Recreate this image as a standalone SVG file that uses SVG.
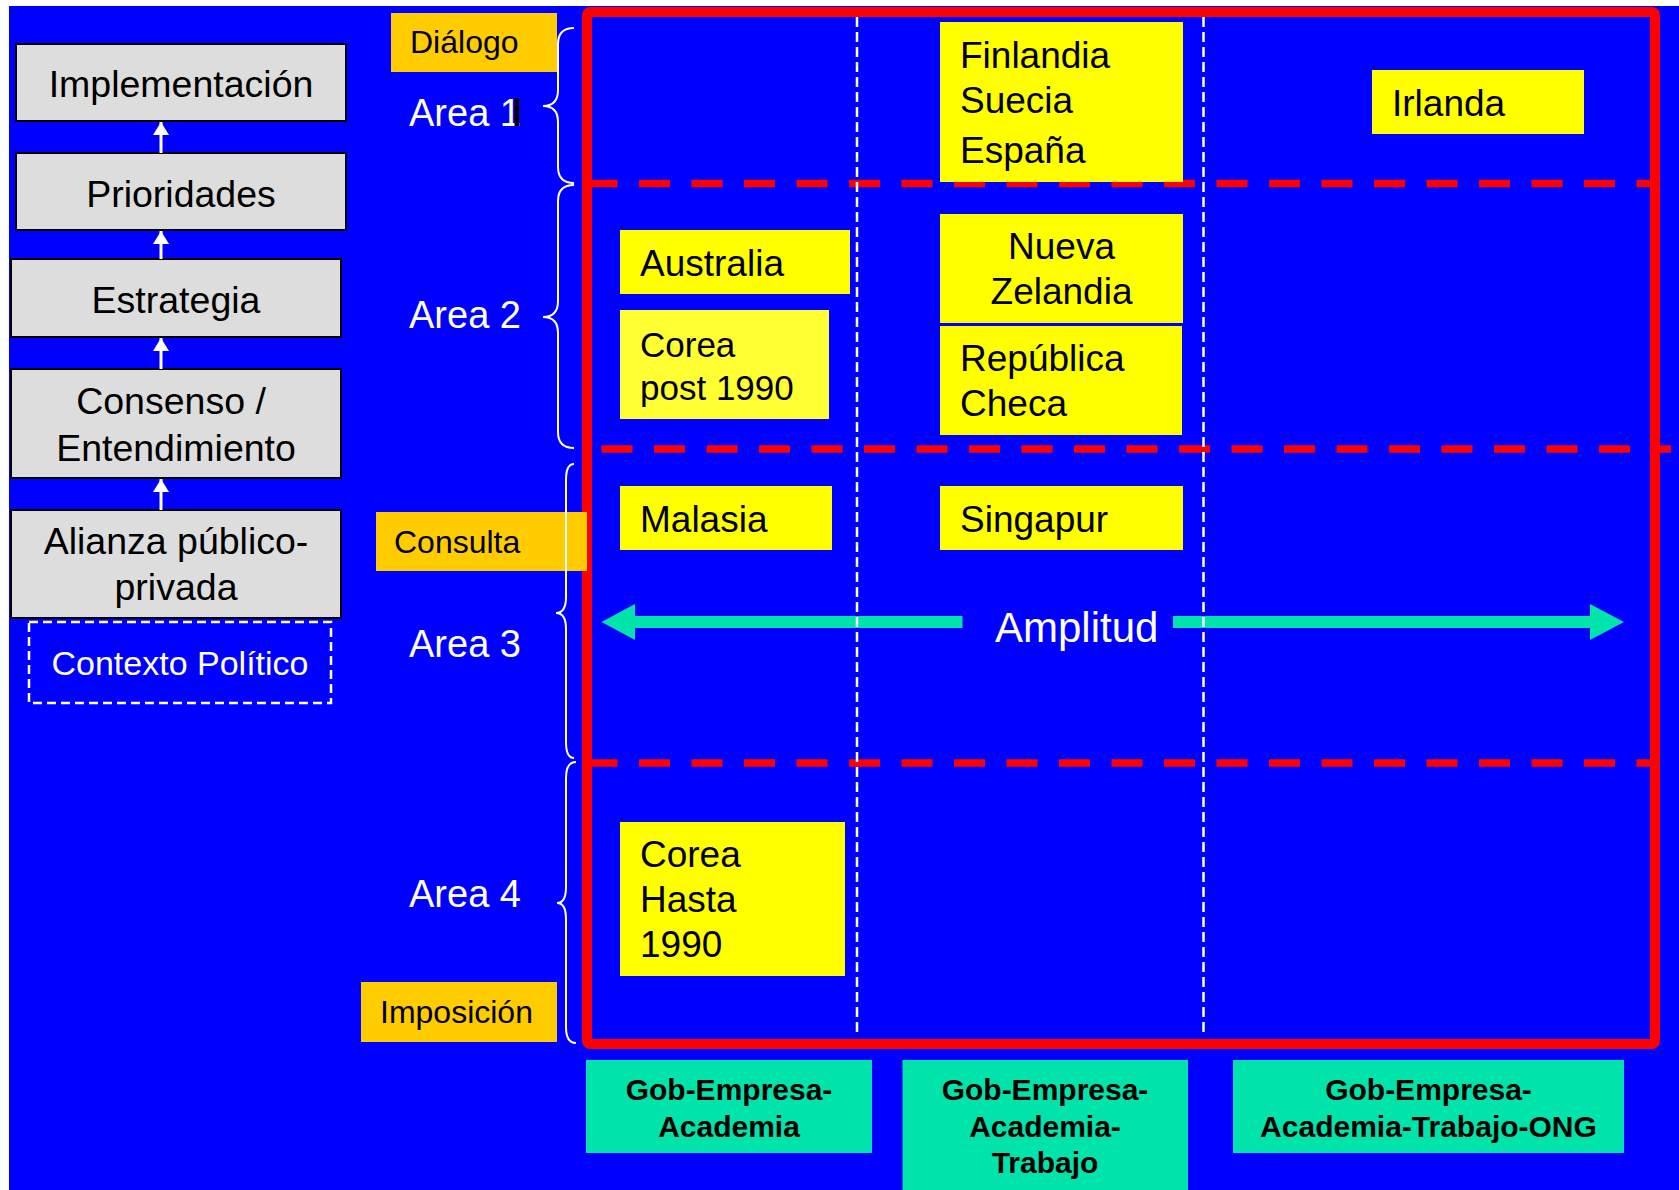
<svg xmlns="http://www.w3.org/2000/svg" width="1679" height="1190" viewBox="0 0 1679 1190">
<style>
.t{font-family:"Liberation Sans",Arial,sans-serif}
.gbox{fill:#DDDDDD;stroke:#000;stroke-width:2}
.lbl{font-size:37.5px;fill:#000;text-anchor:middle}
.org{fill:#FFCC00}
.olbl{font-size:32px;fill:#000}
.ylw{fill:#FFFF00}
.ctry{font-size:37px;fill:#000}
.grn{fill:#00E3AA}
.gtxt{font-size:30px;font-weight:bold;fill:#000;text-anchor:middle}
.area{font-size:38px;fill:#fff}
.rdash{stroke:#FF0000;stroke-width:7.5;stroke-dasharray:31 21.5;fill:none}
.wdash{stroke:#fff;stroke-width:2.5;stroke-dasharray:10 5;fill:none}
.brace{fill:none;stroke:#fff;stroke-width:2}
.teal{fill:#00E3AA}
.conn{stroke:#fff;stroke-width:3;fill:none;marker-end:url(#ah)}
</style>
<defs>
<marker id="ah" viewBox="0 0 13 16" refX="13" refY="8" markerWidth="13" markerHeight="16" markerUnits="userSpaceOnUse" orient="auto">
<path d="M0,0 L13,8 L0,16 z" fill="#fff"/>
</marker>
</defs>
<rect x="9" y="6" width="1670" height="1184" fill="#0000FF"/>

<g id="grid">
<line class="rdash" x1="586.5" y1="183.5" x2="1650" y2="183.5"/>
<line class="rdash" x1="601.5" y1="449" x2="1671" y2="449"/>
<line class="rdash" x1="586.5" y1="763" x2="1650" y2="763"/>
</g>

<g id="amplitud">
<polygon class="teal" points="601.5,622 635,604 635,616 962.5,616 962.5,628 635,628 635,640"/>
<polygon class="teal" points="1173,616 1590,616 1590,604 1624,622 1590,640 1590,628 1173,628"/>
<text class="t" x="995" y="642" font-size="42" fill="#fff">Amplitud</text>
</g>

<g id="columns">
<line class="wdash" x1="857" y1="17" x2="857" y2="1036"/>
<line class="wdash" x1="1203.5" y1="17" x2="1203.5" y2="1036"/>
</g>

<rect id="frame" x="587" y="12" width="1068" height="1032" rx="3" fill="none" stroke="#FF0000" stroke-width="10"/>

<g id="finlandia">
<rect class="ylw" x="940" y="22" width="243" height="160"/>
<text class="t ctry" x="960" y="68">Finlandia</text>
<text class="t ctry" x="960" y="113">Suecia</text>
<text class="t ctry" x="960" y="163">España</text>
</g>
<g id="irlanda">
<rect class="ylw" x="1372" y="70" width="212" height="64"/>
<text class="t ctry" x="1392" y="116">Irlanda</text>
</g>
<g id="australia">
<rect class="ylw" x="620" y="230" width="230" height="64"/>
<text class="t ctry" x="640" y="276">Australia</text>
</g>
<g id="corea-post">
<rect x="620" y="310" width="209" height="109" fill="#FFFF33"/>
<text class="t" x="640" y="357" font-size="35" fill="#000">Corea</text>
<text class="t" x="640" y="400" font-size="35" fill="#000">post 1990</text>
</g>
<g id="nueva-zelandia">
<rect class="ylw" x="940" y="214" width="243" height="109"/>
<text class="t ctry" x="1061.5" y="259" text-anchor="middle">Nueva</text>
<text class="t ctry" x="1061.5" y="304" text-anchor="middle">Zelandia</text>
</g>
<g id="republica-checa">
<rect class="ylw" x="940" y="326" width="242" height="109"/>
<text class="t ctry" x="960" y="371">República</text>
<text class="t ctry" x="960" y="416">Checa</text>
</g>
<g id="malasia">
<rect class="ylw" x="620" y="486" width="212" height="64"/>
<text class="t ctry" x="640" y="532">Malasia</text>
</g>
<g id="singapur">
<rect class="ylw" x="940" y="486" width="243" height="64"/>
<text class="t ctry" x="960" y="532">Singapur</text>
</g>
<g id="corea-hasta">
<rect class="ylw" x="620" y="822" width="225" height="154"/>
<text class="t ctry" x="640" y="867">Corea</text>
<text class="t ctry" x="640" y="912">Hasta</text>
<text class="t ctry" x="640" y="957">1990</text>
</g>

<g id="dialogo">
<rect class="org" x="391" y="13" width="166" height="59"/>
<text class="t olbl" x="410" y="53">Diálogo</text>
</g>
<g id="consulta">
<rect class="org" x="376" y="512" width="211" height="59"/>
<text class="t olbl" x="394" y="553">Consulta</text>
</g>
<g id="imposicion">
<rect class="org" x="361" y="982" width="196" height="60"/>
<text class="t olbl" x="380" y="1023">Imposición</text>
</g>

<g id="braces">
<path class="brace" d="M574,28 Q558,28 558,44 L558,90 Q558,106 543,106 Q558,106 558,122 L558,167 Q558,183 574,183"/>
<path class="brace" d="M574,185 Q558,185 558,201 L558,301 Q558,317 543,317 Q558,317 558,333 L558,432 Q558,448 574,448"/>
<path class="brace" d="M574,464 Q566,464 566,480 L566,597 Q566,613 556,613 Q566,613 566,629 L566,742 Q566,758 574,758"/>
<path class="brace" d="M576,762 Q566,762 566,778 L566,887 Q566,903 557,903 Q566,903 566,919 L566,1027 Q566,1043 576,1043"/>
</g>

<g id="areas">
<text class="t area" x="409" y="126">Area 1</text>
<rect x="514.5" y="98" width="4.5" height="28" fill="#000"/>
<text class="t area" x="409" y="328">Area 2</text>
<text class="t area" x="409" y="657">Area 3</text>
<text class="t area" x="409" y="907">Area 4</text>
</g>

<g id="implementacion">
<rect class="gbox" x="16" y="44" width="330" height="77"/>
<text class="t lbl" x="181" y="97">Implementación</text>
</g>
<g id="prioridades">
<rect class="gbox" x="16" y="153" width="330" height="77"/>
<text class="t lbl" x="181" y="207">Prioridades</text>
</g>
<g id="estrategia">
<rect class="gbox" x="11" y="259" width="330" height="78"/>
<text class="t lbl" x="176" y="313">Estrategia</text>
</g>
<g id="consenso">
<rect class="gbox" x="11" y="369" width="330" height="109"/>
<text class="t lbl" x="171" y="414">Consenso /</text>
<text class="t lbl" x="176" y="461">Entendimiento</text>
</g>
<g id="alianza">
<rect class="gbox" x="11" y="510" width="330" height="108"/>
<text class="t lbl" x="176" y="554">Alianza público-</text>
<text class="t lbl" x="176" y="600">privada</text>
</g>
<g id="contexto">
<rect x="29" y="622" width="302" height="81" fill="none" stroke="#fff" stroke-width="2.5" stroke-dasharray="9 5"/>
<text class="t" x="180" y="675" font-size="34" fill="#fff" text-anchor="middle">Contexto Político</text>
</g>

<g id="connectors">
<line class="conn" x1="161" y1="153" x2="161" y2="122"/>
<line class="conn" x1="161" y1="259" x2="161" y2="231"/>
<line class="conn" x1="161" y1="369" x2="161" y2="338"/>
<line class="conn" x1="161" y1="510" x2="161" y2="479"/>
</g>

<g id="gea">
<rect class="grn" x="586" y="1060" width="286" height="93"/>
<text class="t gtxt" x="729" y="1100">Gob-Empresa-</text>
<text class="t gtxt" x="729" y="1137">Academia</text>
</g>
<g id="geat">
<rect class="grn" x="902.5" y="1060" width="285.5" height="130"/>
<text class="t gtxt" x="1045" y="1100">Gob-Empresa-</text>
<text class="t gtxt" x="1045" y="1137">Academia-</text>
<text class="t gtxt" x="1045" y="1173">Trabajo</text>
</g>
<g id="geato">
<rect class="grn" x="1233" y="1060" width="391" height="93"/>
<text class="t gtxt" x="1428.5" y="1100">Gob-Empresa-</text>
<text class="t gtxt" x="1428.5" y="1137">Academia-Trabajo-ONG</text>
</g>
</svg>
